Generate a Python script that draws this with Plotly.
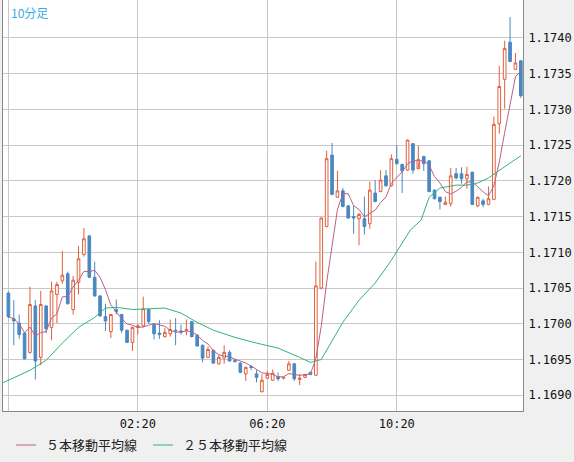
import pandas as pd
import plotly.graph_objects as go

open_ = [1.17043,1.17007,1.17001,1.16987,1.16960,1.17025,1.16953,1.17025,1.16995,1.17041,
         1.17060,1.17070,1.17020,1.17058,1.17097,1.17123,1.17065,1.17039,1.17010,1.16989,
         1.17020,1.17013,1.16991,1.16974,1.16995,1.16997,1.17020,1.16999,1.16987,1.16982,
         1.16986,1.16991,1.16990,1.16991,1.17003,1.16984,1.16970,1.16953,1.16963,1.16944,
         1.16952,1.16960,1.16949,1.16945,1.16930,1.16940,1.16930,1.16905,1.16924,1.16921,
         1.16926,1.16924,1.16935,1.16944,1.16922,1.16925,1.16932,1.16928,1.17050,1.17136,
         1.17236,1.17177,1.17186,1.17165,1.17150,1.17147,1.17147,1.17140,1.17183,1.17185,
         1.17207,1.17193,1.17230,1.17223,1.17215,1.17252,1.17217,1.17234,1.17228,1.17187,
         1.17177,1.17167,1.17168,1.17210,1.17210,1.17203,1.17212,1.17165,1.17172,1.17167,
         1.17174,1.17280,1.17342,1.17394,1.17356,1.17368]
high = [1.17045,1.17033,1.17013,1.16988,1.17052,1.17033,1.17046,1.17026,1.17059,1.17059,
        1.17102,1.17073,1.17067,1.17109,1.17134,1.17124,1.17087,1.17040,1.17028,1.17013,
        1.17034,1.17014,1.16992,1.16996,1.17000,1.17038,1.17021,1.17000,1.17005,1.16994,
        1.17006,1.17008,1.16999,1.17006,1.17004,1.16985,1.16971,1.16968,1.16964,1.16956,
        1.16970,1.16963,1.16950,1.16946,1.16940,1.16942,1.16935,1.16929,1.16934,1.16936,
        1.16932,1.16925,1.16948,1.16945,1.16930,1.16930,1.16933,1.17087,1.17149,1.17242,
        1.17253,1.17214,1.17190,1.17166,1.17165,1.17155,1.17178,1.17199,1.17201,1.17215,
        1.17215,1.17237,1.17250,1.17224,1.17258,1.17253,1.17249,1.17235,1.17229,1.17188,
        1.17178,1.17178,1.17218,1.17218,1.17219,1.17220,1.17213,1.17178,1.17175,1.17192,
        1.17290,1.17361,1.17396,1.17429,1.17379,1.17369]
low = [1.17008,1.16970,1.16979,1.16950,1.16958,1.16922,1.16942,1.16987,1.16977,1.17001,
       1.17056,1.17027,1.17013,1.17041,1.17094,1.17064,1.17038,1.17010,1.16990,1.16980,
       1.17013,1.16987,1.16973,1.16962,1.16985,1.16995,1.17000,1.16978,1.16979,1.16981,
       1.16982,1.16970,1.16985,1.16984,1.16981,1.16968,1.16946,1.16952,1.16944,1.16943,
       1.16944,1.16947,1.16946,1.16931,1.16920,1.16935,1.16918,1.16904,1.16923,1.16920,
       1.16920,1.16922,1.16934,1.16920,1.16914,1.16924,1.16928,1.16927,1.17048,1.17135,
       1.17180,1.17176,1.17163,1.17147,1.17126,1.17110,1.17125,1.17133,1.17170,1.17184,
       1.17192,1.17192,1.17223,1.17183,1.17214,1.17210,1.17226,1.17214,1.17184,1.17174,
       1.17160,1.17166,1.17164,1.17202,1.17196,1.17189,1.17166,1.17163,1.17163,1.17166,
       1.17173,1.17266,1.17301,1.17366,1.17355,1.17316]
close = [1.17010,1.17004,1.16985,1.16951,1.17027,1.16948,1.17027,1.16993,1.17046,1.17055,
         1.17068,1.17028,1.17061,1.17091,1.17119,1.17065,1.17039,1.17011,1.17004,1.17013,
         1.17017,1.16991,1.16974,1.16995,1.16997,1.17021,1.17003,1.16986,1.16985,1.16988,
         1.16992,1.16990,1.16988,1.16992,1.16982,1.16969,1.16952,1.16964,1.16945,1.16953,
         1.16960,1.16948,1.16947,1.16932,1.16939,1.16939,1.16925,1.16921,1.16929,1.16931,
         1.16923,1.16925,1.16944,1.16923,1.16924,1.16929,1.16929,1.17053,1.17148,1.17231,
         1.17181,1.17186,1.17164,1.17148,1.17148,1.17153,1.17136,1.17187,1.17171,1.17201,
         1.17193,1.17231,1.17224,1.17214,1.17257,1.17215,1.17230,1.17224,1.17185,1.17175,
         1.17171,1.17170,1.17207,1.17204,1.17203,1.17209,1.17167,1.17177,1.17167,1.17175,
         1.17279,1.17332,1.17385,1.17367,1.17365,1.17319]

ma25_idx = [-2,4,7,10,13,16,18,20,23,29,32,35,38,42,46,50,54,56,58,59.5,62,65,68,71,73,74.5,
            76.5,78,80,83,85,87,89,91,93,95]
ma25_val = [1.16914,1.16935,1.16949,1.16973,1.16995,1.17009,1.17022,1.17023,1.17020,1.17022,
            1.17015,1.17002,1.16991,1.16981,1.16973,1.16966,1.16953,1.16946,1.16950,1.16970,
            1.17002,1.17033,1.17057,1.17089,1.17113,1.17131,1.17145,1.17177,1.17190,1.17194,
            1.17194,1.17197,1.17204,1.17215,1.17225,1.17235]

y_ticks = [1.1690, 1.1695, 1.1700, 1.1705, 1.1710, 1.1715, 1.1720, 1.1725, 1.1730, 1.1735, 1.1740]
y_labels = ["1.1690", "1.1695", "1.1700", "1.1705", "1.1710", "1.1715", "1.1720",
            "1.1725", "1.1730", "1.1735", "1.1740"]
legend_names = ["５本移動平均線", "２５本移動平均線"]
ma5_color = "#b8608a"
ma25_color = "#2eb47c"

start = pd.Timestamp("2024-01-01 22:20")
step = pd.Timedelta(minutes=10)
t = [start + i * step for i in range(len(close))]
t_ma25 = [start + pd.Timedelta(minutes=10 * i) for i in ma25_idx]
ma5 = pd.Series(close).rolling(5, min_periods=1).mean()

fig = go.Figure()
fig.add_trace(go.Candlestick(
    x=t, open=open_, high=high, low=low, close=close, showlegend=False,
    increasing=dict(line=dict(color="#e0603c", width=1), fillcolor="#ffffff"),
    decreasing=dict(line=dict(color="#4a88c2", width=1), fillcolor="#4a88c2"),
    whiskerwidth=0, hoverinfo="skip"))
fig.add_trace(go.Scatter(x=t, y=ma5, mode="lines", name=legend_names[0], showlegend=False,
                         line=dict(color=ma5_color, width=1)))
fig.add_trace(go.Scatter(x=t_ma25, y=ma25_val, mode="lines", name=legend_names[1],
                         showlegend=False, line=dict(color=ma25_color, width=1)))

tickvals = [pd.Timestamp("2024-01-01 22:20"), pd.Timestamp("2024-01-02 02:20"),
            pd.Timestamp("2024-01-02 06:20"), pd.Timestamp("2024-01-02 10:20")]
ticktext = ["", "02:20", "06:20", "10:20"]

W, H = 574, 462
PW, PH = 520, 411
def px(xp):
    return (xp - 3) / PW
def py(yp):
    return (PH - yp) / PH

shapes = []
annotations = [dict(text="10分足", x=0.012, y=0.995, xref="paper", yref="paper",
                    xanchor="left", yanchor="top", showarrow=False,
                    font=dict(family="Noto Sans CJK JP", size=12, color="#3aaee6"))]
for name, col, lx in [(legend_names[0], ma5_color, 16), (legend_names[1], ma25_color, 153)]:
    shapes.append(dict(type="line", xref="paper", yref="paper", x0=px(lx), x1=px(lx + 20),
                       y0=py(445), y1=py(445), line=dict(color=col, width=1)))
    annotations.append(dict(text=name, xref="paper", yref="paper", x=px(lx + 28), y=py(445),
                            xanchor="left", yanchor="middle", showarrow=False,
                            font=dict(family="Noto Sans CJK JP", size=13, color="#222222")))

fig.update_layout(
    width=W, height=H, margin=dict(l=3, r=51, t=0, b=51, autoexpand=False),
    paper_bgcolor="#f0f0f0", plot_bgcolor="#ffffff",
    font=dict(family="DejaVu Sans Mono", size=12, color="#111111"),
    showlegend=False,
    xaxis=dict(range=[pd.Timestamp("2024-01-01 22:10"), pd.Timestamp("2024-01-02 14:14")],
               tickvals=tickvals, ticktext=ticktext, showgrid=True, gridcolor="#c8c8c8",
               rangeslider=dict(visible=False), showline=True, linecolor="#888888",
               mirror=True, ticks="", zeroline=False, ticklabelstandoff=2),
    yaxis=dict(range=[1.16878, 1.17453], side="right", tickvals=y_ticks, ticktext=y_labels,
               showgrid=True, gridcolor="#c8c8c8", showline=True,
               linecolor="#888888", mirror=True, ticks="", zeroline=False,
               ticklabelstandoff=2, automargin=False),
    shapes=shapes,
    annotations=annotations,
)
fig.write_html("out.html", config={"displayModeBar": False},
               post_script="document.body.style.margin='0';")
